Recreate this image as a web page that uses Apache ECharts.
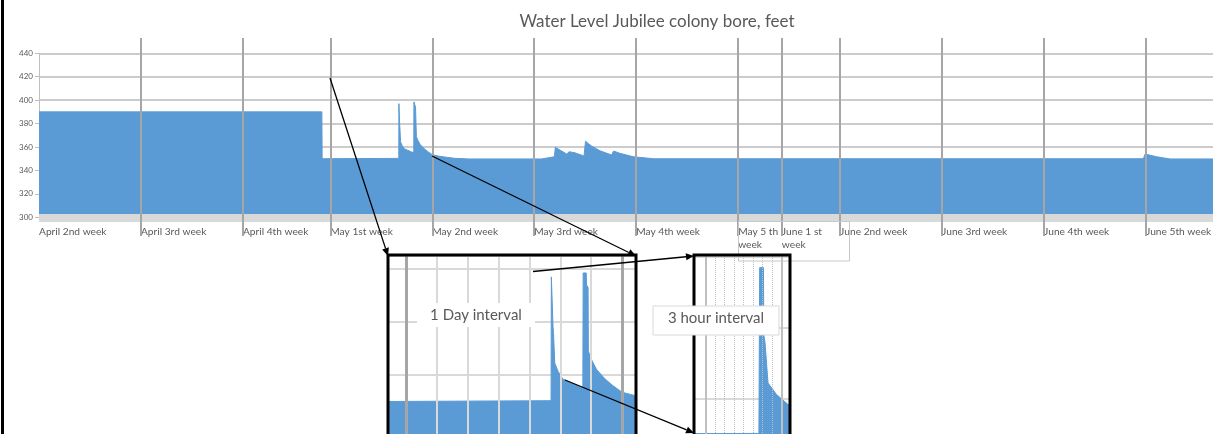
<!DOCTYPE html>
<html><head><meta charset="utf-8">
<script src="https://cdn.jsdelivr.net/npm/echarts@6/dist/echarts.min.js"></script>
<style>html,body{margin:0;padding:0;background:#fff}#c{width:1215px;height:434px}</style>
</head><body><div id="c"></div>
<script>
const chartTitle = 'Water Level Jubilee colony bore, feet';
const weekStartDays = [0, 7, 14, 20, 27, 34, 41, 48, 51, 55, 62, 69, 76];
const weekLabels = ['April 2nd week', 'April 3rd week', 'April 4th week', 'May 1st week', 'May 2nd week',
  'May 3rd week', 'May 4th week', 'May 5 th\nweek', 'June 1 st\nweek', 'June 2nd week',
  'June 3rd week', 'June 4th week', 'June 5th week'];
const dayGrid = [21, 22, 23, 24, 25, 26];
const spikeDayBounds = [24, 25];
const threeHourGrid = [24.125, 24.25, 24.375, 24.5, 24.625, 24.75, 24.875];
const insetLabels = ['1 Day interval', '3 hour interval'];

// readings: day since start of "April 2nd week", level in feet
const readingDay = [0, 19.42, 19.44, 24.70, 24.71, 24.76, 24.765, 24.78, 24.82, 24.93, 25.08, 25.3, 25.5,
  25.73, 25.74, 25.84, 25.85, 25.90, 25.91, 26.0, 26.18, 26.45, 26.7, 27.0, 27.4, 28.0, 28.5, 29.5,
  34.5, 34.6, 35.38, 35.45, 36.23, 36.4, 36.8, 37.42, 37.52, 37.71, 37.94, 38.51, 39.31, 39.45, 39.88,
  40.8, 42.2, 75.82, 75.94, 76.73, 77.65, 80.6];
const readingLevel = [390, 390, 350, 350.3, 397, 397, 378, 376, 364.5, 361.3, 358.5, 357.3, 356.2,
  355, 398.5, 398.5, 394, 393, 369, 366, 362, 358.5, 356, 353.5, 352.3, 351.2, 350.4, 349.8,
  349.8, 351.5, 351.7, 359.7, 354, 356, 355, 352.3, 365, 363, 360.8, 356.8, 353.2, 356.6, 354.6,
  351.7, 350, 350, 354, 351.7, 349.8, 349.8];

const data = readingDay.map((d, i) => [d, readingLevel[i]]);
const BLUE = '#5b9bd5', TXT = '#595959', FONT = 'Lato';

const chart = echarts.init(document.getElementById('c'), null, {renderer: 'canvas'});

const hiddenAxisBase = {axisLine: {show: false}, axisLabel: {show: false}};
function splitAxis(grid, min, max, values, lineStyle, z) {
  return Object.assign({type: 'value', gridIndex: grid, min, max, z,
    axisTick: {show: false, customValues: values},
    splitLine: {show: true, lineStyle}}, hiddenAxisBase);
}
function areaSeries(xi, yi) {
  return {type: 'line', xAxisIndex: xi, yAxisIndex: yi, data, showSymbol: false, animation: false,
    lineStyle: {color: BLUE, width: 1}, areaStyle: {color: BLUE, opacity: 1}, z: 2};
}
function arrow(x1, y1, x2, y2) {
  const a = Math.atan2(y2 - y1, x2 - x1), L = 8, W = 3.5;
  const bx = x2 - L * Math.cos(a), by = y2 - L * Math.sin(a);
  return [
    {type: 'line', z: 100, shape: {x1, y1, x2: bx, y2: by}, style: {stroke: '#000', lineWidth: 1.3}},
    {type: 'polygon', z: 100, shape: {points: [[x2, y2], [bx + W * Math.sin(a), by - W * Math.cos(a)], [bx - W * Math.sin(a), by + W * Math.cos(a)]]}, style: {fill: '#000'}}
  ];
}

const option = {
  animation: false,
  textStyle: {fontFamily: FONT},
  title: {text: chartTitle, left: 652, top: 8, textAlign: 'center',
    textStyle: {fontSize: 17, fontWeight: 'normal', color: TXT, fontFamily: FONT}},
  grid: [
    {left: 39, right: 2, top: 53.3, height: 164, outerBoundsMode: 'none', containLabel: false},
    {left: 39, right: 2, top: 38, height: 198, outerBoundsMode: 'none', containLabel: false},
    {left: 389, top: 256, width: 246, height: 225, outerBoundsMode: 'none', containLabel: false},
    {left: 695, top: 256, width: 94, height: 214, outerBoundsMode: 'none', containLabel: false}
  ],
  xAxis: [
    {type: 'value', gridIndex: 0, min: 0, max: 80.6, z: 3,
      axisLine: {show: true, onZero: false, lineStyle: {color: '#d9d9d9', width: 8, cap: 'butt'}},
      axisTick: {show: false},
      splitLine: {show: false},
      axisLabel: {customValues: weekStartDays, align: 'left', margin: 8, fontSize: 10.2, lineHeight: 13,
        color: TXT, fontFamily: FONT, verticalAlign: 'top',
        formatter: v => weekLabels[weekStartDays.indexOf(v)] || ''}},
    splitAxis(1, 0, 80.6, weekStartDays.slice(1), {color: '#a6a6a6', width: 2}, 4),
    splitAxis(2, 19.45, 27.42, dayGrid, {color: '#d9d9d9', width: 2}, 4),
    splitAxis(2, 19.45, 27.42, weekStartDays.filter(v => v > 19.45 && v < 27.42), {color: '#a6a6a6', width: 3}, 5),
    splitAxis(3, 23.859, 25.096, spikeDayBounds, {color: '#bfbfbf', width: 2}, 4),
    splitAxis(3, 23.859, 25.096, threeHourGrid, {color: '#bfbfbf', width: 1, type: 'dotted'}, 4)
  ],
  yAxis: [
    {type: 'value', gridIndex: 0, min: 300, max: 440, interval: 20,
      axisLine: {show: true, lineStyle: {color: '#bfbfbf'}},
      axisTick: {show: true, length: 4, lineStyle: {color: '#bfbfbf'}},
      axisLabel: {fontSize: 8, color: TXT, margin: 6},
      splitLine: {show: true, lineStyle: {color: '#cccccc', width: 2}}},
    {type: 'value', gridIndex: 1, show: false, min: 0, max: 1},
    {type: 'value', gridIndex: 2, min: 320, max: 404.9, interval: 20, axisLine: {show: false},
      axisLabel: {show: false}, axisTick: {show: false},
      splitLine: {show: true, lineStyle: {color: '#d9d9d9', width: 2}}},
    {type: 'value', gridIndex: 3, min: 340, max: 400.28, interval: 20, axisLine: {show: false},
      axisLabel: {show: false}, axisTick: {show: false},
      splitLine: {show: true, lineStyle: {color: '#d9d9d9', width: 2}}}
  ],
  series: [areaSeries(0, 0), areaSeries(2, 2), areaSeries(4, 3)],
  graphic: [
    {type: 'line', z: 100, shape: {x1: 2.5, y1: 0, x2: 2.5, y2: 434}, style: {stroke: '#000', lineWidth: 3}},
    {type: 'rect', z: 90, shape: {x: 738.5, y: 221.5, width: 111, height: 39.5}, style: {fill: 'none', stroke: '#c8c8c8', lineWidth: 1}},
    {type: 'rect', z: 95, shape: {x: 388, y: 255, width: 248, height: 200}, style: {fill: 'none', stroke: '#000', lineWidth: 3}},
    {type: 'rect', z: 95, shape: {x: 694, y: 255, width: 96, height: 200}, style: {fill: 'none', stroke: '#000', lineWidth: 3}},
    ...arrow(330, 78, 388, 256),
    ...arrow(432, 156, 636, 256),
    ...arrow(533, 271.5, 694, 256),
    ...arrow(565, 380, 694, 433),
    {type: 'rect', z: 110, shape: {x: 417, y: 303, width: 118, height: 24}, style: {fill: '#fff'}},
    {type: 'text', z: 111, style: {text: insetLabels[0], x: 476, y: 315, fill: TXT, font: '15px Lato', textAlign: 'center', textVerticalAlign: 'middle'}},
    {type: 'rect', z: 110, shape: {x: 653, y: 306, width: 126, height: 29}, style: {fill: '#fff', stroke: '#d9d9d9', lineWidth: 1}},
    {type: 'text', z: 111, style: {text: insetLabels[1], x: 716, y: 318, fill: TXT, font: '15px Lato', textAlign: 'center', textVerticalAlign: 'middle'}}
  ]
};
chart.setOption(option);
</script>
</body></html>
